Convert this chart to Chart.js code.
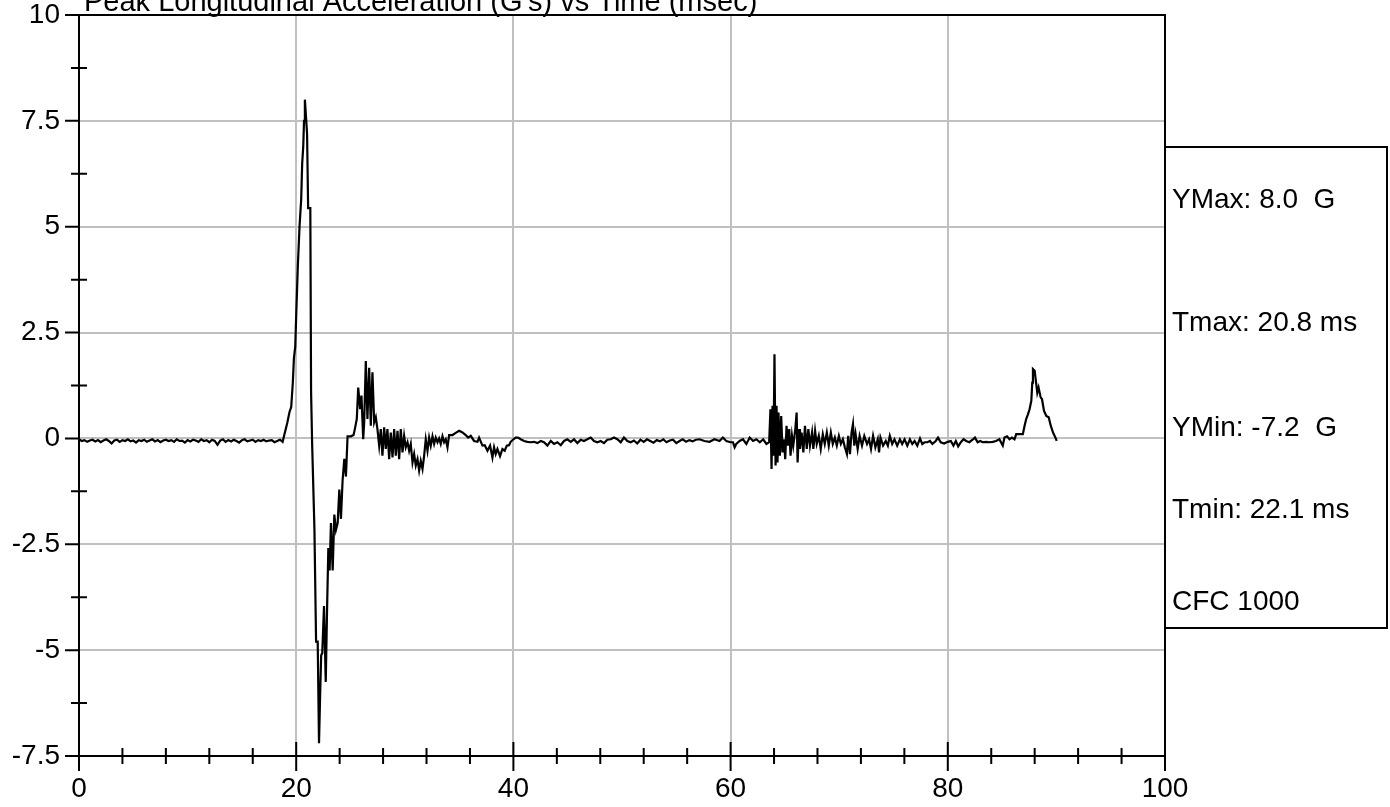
<!DOCTYPE html>
<html>
<head>
<meta charset="utf-8">
<script src="https://cdn.jsdelivr.net/npm/chart.js@4.4.1/dist/chart.umd.min.js"></script>
<style>
  html, body { margin: 0; padding: 0; background: #fff; }
  canvas { display: block; }
</style>
</head>
<body>
<canvas id="chart" width="1390" height="807"></canvas>
<script>
const chartTitle = "Peak Longitudinal Acceleration (G's) vs Time (msec)";
const xTickValues = [0, 20, 40, 60, 80, 100];
const yTickValues = [-7.5, -5, -2.5, 0, 2.5, 5, 7.5, 10];
const statLabels = ['YMax: 8.0  G', 'Tmax: 20.8 ms', 'YMin: -7.2  G', 'Tmin: 22.1 ms', 'CFC 1000'];

// trace points as [time ms, accel G]
const preImpact = [
  [0, -0.02], [0.25, -0.06], [0.5, -0.04], [0.75, -0.08], [1, -0.05], [1.25, -0.03], [1.5, -0.07], [1.75, -0.04], [2, -0.09], [2.25, -0.05],
  [2.5, -0.02], [2.75, -0.06], [3, -0.12], [3.25, -0.05], [3.5, -0.03], [3.75, -0.08], [4, -0.04], [4.25, -0.06], [4.5, -0.02], [4.75, -0.07],
  [5, -0.05], [5.25, -0.10], [5.5, -0.04], [5.75, -0.06], [6, -0.03], [6.25, -0.08], [6.5, -0.05], [6.75, -0.02], [7, -0.07], [7.25, -0.04],
  [7.5, -0.09], [7.75, -0.05], [8, -0.03], [8.25, -0.06], [8.5, -0.04], [8.75, -0.08], [9, -0.02], [9.25, -0.06], [9.5, -0.05], [9.75, -0.10],
  [10, -0.04], [10.25, -0.07], [10.5, -0.03], [10.75, -0.05], [11, -0.08], [11.25, -0.02], [11.5, -0.06], [11.75, -0.04], [12, -0.09], [12.25, -0.03],
  [12.5, -0.06], [12.75, -0.15], [13, -0.05], [13.25, -0.02], [13.5, -0.08], [13.75, -0.04], [14, -0.07], [14.25, -0.03], [14.5, -0.06], [14.75, -0.10],
  [15, -0.04], [15.25, -0.02], [15.5, -0.07], [15.75, -0.05], [16, -0.03], [16.25, -0.08], [16.5, -0.04], [16.75, -0.06], [17, -0.03], [17.25, -0.07],
  [17.5, -0.05], [17.75, -0.04], [18, -0.09], [18.25, -0.06], [18.5, -0.03], [18.75, -0.08]
];

const mainPulse = [
  [18.93, 0.11], [19.18, 0.37], [19.39, 0.63], [19.54, 0.74], [19.69, 1.32], [19.79, 1.90], [19.91, 2.16], [20.0, 2.90],
  [20.15, 4.07], [20.31, 5.02], [20.46, 5.65], [20.55, 6.49], [20.65, 6.90], [20.72, 7.50], [20.8, 8.00], [21.0, 7.20],
  [21.1, 5.44], [21.3, 5.44], [21.37, 1.10], [21.47, -0.15], [21.68, -2.16], [21.83, -4.80], [21.98, -4.80], [22.1, -7.20],
  [22.2, -6.10], [22.3, -5.12], [22.4, -5.07], [22.56, -3.96], [22.72, -5.75], [22.84, -4.07], [22.96, -2.59], [23.08, -3.12],
  [23.2, -2.00], [23.36, -3.12], [23.51, -1.80], [23.66, -2.16], [23.82, -2.00], [23.97, -1.21], [24.12, -1.90], [24.27, -1.00],
  [24.43, -0.48], [24.58, -0.90], [24.73, 0.05], [25.04, 0.05], [25.28, 0.08], [25.4, 0.22], [25.58, 0.46]
];

const rebound = [
  [25.71, 1.20], [25.89, 0.69], [26.01, 1.01], [26.17, -0.02], [26.26, 0.38], [26.41, 1.83], [26.56, 0.46], [26.72, 1.67],
  [26.87, 0.30], [27.02, 1.56], [27.18, 0.38], [27.33, 0.50], [27.48, 0.22], [27.64, -0.17], [27.79, 0.22], [27.94, -0.41],
  [28.10, 0.26], [28.25, -0.25], [28.40, 0.22], [28.56, -0.49], [28.71, 0.14], [28.87, -0.45], [29.02, 0.22], [29.17, -0.41],
  [29.33, 0.18], [29.48, -0.49], [29.63, 0.22], [29.79, -0.33], [29.94, 0.06], [30.09, -0.21], [30.25, -0.09], [30.40, -0.29],
  [30.55, -0.13], [30.71, -0.57], [30.86, -0.37], [31.01, -0.64], [31.17, -0.49], [31.32, -0.76], [31.47, -0.53], [31.63, -0.72],
  [31.78, -0.41], [31.93, -0.02], [32.09, -0.29], [32.24, 0.02], [32.39, -0.17], [32.55, 0.05], [32.70, -0.13], [32.85, 0.02],
  [33.01, -0.09], [33.16, 0.00], [33.31, -0.13], [33.47, 0.05], [33.62, -0.09], [33.77, -0.02], [33.93, -0.21], [34.08, 0.08],
  [34.39, 0.08], [34.69, 0.13], [35.00, 0.18], [35.31, 0.14], [35.61, 0.08], [35.83, 0.02], [36.07, 0.06], [36.38, -0.06],
  [36.69, -0.08], [36.84, 0.02], [37.15, -0.17], [37.36, -0.16], [37.61, -0.29], [37.85, -0.17], [38.07, -0.45], [38.22, -0.21],
  [38.37, -0.37], [38.53, -0.25], [38.77, -0.42], [38.99, -0.25], [39.20, -0.29], [39.39, -0.17], [39.60, -0.16], [39.75, -0.08]
];

const midQuiet = [
  [40.00, -0.02], [40.21, 0.02], [40.43, 0.02], [40.67, -0.02], [40.98, -0.06], [41.29, -0.08], [41.60, -0.09], [41.90, -0.08],
  [42.21, -0.11], [42.52, -0.06], [42.82, -0.09], [43.13, -0.17], [43.44, -0.06], [43.74, -0.13], [44.05, -0.09], [44.36, -0.16],
  [44.66, -0.06], [44.97, -0.02], [45.28, -0.08], [45.58, -0.02], [45.89, -0.11], [46.20, -0.03], [46.50, -0.06], [46.81, -0.02],
  [47.12, 0.02], [47.42, -0.06], [47.73, -0.09], [48.04, -0.06], [48.34, -0.11], [48.65, -0.03], [48.96, -0.02], [49.26, 0.02],
  [49.57, -0.02], [49.88, -0.09], [50.18, 0.02], [50.49, -0.06], [50.80, -0.09], [51.1, -0.05], [51.4, -0.12], [51.7, -0.03],
  [52.0, -0.08], [52.3, -0.02], [52.6, -0.06], [52.9, -0.10], [53.2, -0.04], [53.5, -0.07], [53.8, -0.02], [54.1, -0.09],
  [54.4, -0.05], [54.7, -0.03], [55.0, -0.11], [55.3, -0.06], [55.6, -0.02], [55.9, -0.08], [56.2, -0.04], [56.5, -0.07],
  [56.8, -0.03], [57.13, -0.02], [57.59, -0.06], [58.06, -0.08], [58.52, -0.02], [58.98, -0.06], [59.29, 0.02], [59.6, -0.06],
  [60.0, -0.09], [60.22, -0.09], [60.37, -0.21], [60.52, -0.13], [60.83, -0.06], [61.14, -0.02], [61.45, -0.13], [61.76, 0.02],
  [62.07, -0.06], [62.38, -0.02], [62.69, -0.09], [63.0, -0.02], [63.3, -0.13], [63.55, -0.09]
];

const secondImpact = [
  [63.67, 0.69], [63.77, -0.72], [63.86, 0.77], [63.95, -0.41], [64.04, 1.99], [64.14, -0.64], [64.23, 0.77], [64.32, -0.57],
  [64.41, 0.61], [64.54, -0.41], [64.66, 0.53], [64.78, -0.33], [64.91, -0.02], [65.03, -0.49], [65.15, 0.30], [65.28, -0.17],
  [65.4, 0.22], [65.52, -0.41], [65.65, 0.06], [65.77, -0.17], [65.96, 0.22], [66.08, 0.61], [66.17, -0.57], [66.3, 0.22],
  [66.39, -0.25], [66.54, 0.14], [66.7, -0.33], [66.85, 0.30], [67.01, -0.25], [67.16, 0.22], [67.31, -0.17], [67.5, 0.14],
  [67.62, -0.25], [67.78, 0.18], [67.93, -0.13], [68.12, 0.06], [68.3, -0.25], [68.49, 0.10], [68.67, -0.13], [68.86, 0.14],
  [69.04, -0.17], [69.23, 0.14], [69.41, -0.13], [69.6, 0.02], [69.78, -0.17], [69.97, 0.06], [70.15, -0.13], [70.34, -0.02],
  [70.52, -0.21], [70.71, -0.37], [70.83, 0.06], [70.99, -0.37], [71.14, 0.14], [71.27, 0.34], [71.39, -0.17], [71.51, 0.10],
  [71.7, -0.25], [71.88, 0.06], [72.1, -0.17], [72.31, 0.06], [72.56, -0.13], [72.75, -0.02], [72.93, -0.25], [73.12, 0.06],
  [73.33, -0.21], [73.55, -0.02], [73.67, -0.33], [73.8, 0.02], [74.04, -0.17], [74.29, -0.06], [74.48, -0.17], [74.66, 0.06],
  [74.88, -0.13], [75.09, -0.02], [75.34, -0.17], [75.59, -0.02], [75.8, -0.13], [76.02, -0.02], [76.27, -0.17], [76.51, -0.02],
  [76.73, -0.13], [76.94, -0.06], [77.19, -0.17], [77.44, 0.00], [77.65, -0.13], [77.87, -0.09], [78.12, -0.09], [78.36, -0.06],
  [78.58, -0.13], [78.89, -0.06], [79.1, 0.02], [79.35, -0.09], [79.66, -0.12], [80.0, -0.08], [80.28, -0.06], [80.52, -0.17],
  [80.74, -0.06], [80.96, -0.19], [81.2, -0.09], [81.45, -0.02], [81.7, -0.06], [81.98, -0.09], [82.28, -0.03], [82.5, 0.02],
  [82.75, -0.09], [82.99, -0.06], [83.21, -0.09], [83.52, -0.08], [83.83, -0.09], [84.14, -0.08], [84.44, -0.06], [84.75, -0.02],
  [85.06, -0.17], [85.22, 0.02], [85.46, 0.05], [85.68, -0.02], [85.9, 0.02], [86.14, -0.02], [86.3, 0.10], [86.6, 0.10]
];

const endBump = [
  [86.91, 0.10], [87.07, 0.30], [87.22, 0.46], [87.38, 0.57], [87.53, 0.69], [87.69, 0.89], [87.78, 1.32], [87.84, 1.64],
  [88.0, 1.60], [88.09, 1.40], [88.24, 1.08], [88.36, 1.20], [88.55, 0.97], [88.67, 0.93], [88.86, 0.65], [89.07, 0.53],
  [89.29, 0.50], [89.48, 0.30], [89.69, 0.14], [89.91, 0.02], [90.03, -0.06]
];

const trace = [...preImpact, ...mainPulse, ...rebound, ...midQuiet, ...secondImpact, ...endBump]
  .map(p => ({ x: p[0], y: p[1] }));

const FONT = "'Liberation Sans', Arial, sans-serif";

const framePlugin = {
  id: 'frame',
  afterDraw(chart) {
    const { ctx, chartArea: a, scales: { x, y } } = chart;
    ctx.save();
    ctx.strokeStyle = '#000';
    ctx.lineWidth = 2;
    ctx.beginPath();
    // top + right border
    ctx.moveTo(a.left - 14, a.top);
    ctx.lineTo(a.right, a.top);
    ctx.lineTo(a.right, a.bottom);
    // y ticks: major outside, minor across the axis
    yTickValues.forEach((v, i) => {
      const py = y.getPixelForValue(v);
      ctx.moveTo(a.left - 14, py);
      ctx.lineTo(a.left, py);
      if (i < yTickValues.length - 1) {
        const my = y.getPixelForValue(v + 1.25);
        ctx.moveTo(a.left - 8, my);
        ctx.lineTo(a.left + 8, my);
      }
    });
    // x ticks
    xTickValues.forEach((v, i) => {
      const px = x.getPixelForValue(v);
      ctx.moveTo(px, a.bottom - 14);
      ctx.lineTo(px, a.bottom + 15);
      if (i < xTickValues.length - 1) {
        for (let k = 4; k < 20; k += 4) {
          const mx = x.getPixelForValue(v + k);
          ctx.moveTo(mx, a.bottom - 8);
          ctx.lineTo(mx, a.bottom + 8);
        }
      }
    });
    ctx.stroke();

    ctx.fillStyle = '#000';
    ctx.font = '29px ' + FONT;
    ctx.textBaseline = 'alphabetic';
    ctx.textAlign = 'left';
    ctx.fillText(chartTitle, a.left + 5, 11);

    // stats box on the right
    const boxLeft = a.right, boxTop = 147, boxRight = 1387, boxBottom = 628;
    ctx.fillStyle = '#fff';
    ctx.fillRect(boxLeft, boxTop, boxRight - boxLeft, boxBottom - boxTop);
    ctx.strokeRect(boxLeft, boxTop, boxRight - boxLeft, boxBottom - boxTop);
    ctx.fillStyle = '#000';
    ctx.font = '28px ' + FONT;
    ctx.textBaseline = 'middle';
    const rows = [200, 323, 428, 510, 602];
    statLabels.forEach((s, i) => ctx.fillText(s, boxLeft + 7, rows[i]));
    ctx.restore();
  }
};

new Chart(document.getElementById('chart'), {
  type: 'line',
  data: {
    datasets: [{
      data: trace,
      borderColor: '#000',
      borderWidth: 2.2,
      pointRadius: 0,
      tension: 0,
      fill: false
    }]
  },
  options: {
    responsive: false,
    animation: false,
    parsing: false,
    layout: { padding: { top: 15, right: 225, left: 0, bottom: 0 } },
    plugins: { legend: { display: false }, tooltip: { enabled: false }, title: { display: false } },
    scales: {
      x: {
        type: 'linear',
        min: 0,
        max: 100,
        afterFit: s => { s.height = 51; s.paddingLeft = 0; s.paddingRight = 0; },
        afterBuildTicks: s => { s.ticks = xTickValues.map(v => ({ value: v })); },
        ticks: { color: '#000', font: { family: FONT, size: 28 }, padding: 16, maxRotation: 0, callback: v => String(v) },
        grid: { color: '#c0c0c0', lineWidth: 2, drawTicks: false },
        border: { color: '#000', width: 2 }
      },
      y: {
        type: 'linear',
        min: -7.5,
        max: 10,
        afterFit: s => { s.width = 79; s.paddingTop = 0; s.paddingBottom = 0; },
        afterBuildTicks: s => { s.ticks = yTickValues.map(v => ({ value: v })); },
        ticks: { color: '#000', font: { family: FONT, size: 28 }, padding: 19, callback: v => String(v) },
        grid: { color: '#c0c0c0', lineWidth: 2, drawTicks: false },
        border: { color: '#000', width: 2 }
      }
    }
  },
  plugins: [framePlugin]
});
</script>
</body>
</html>
